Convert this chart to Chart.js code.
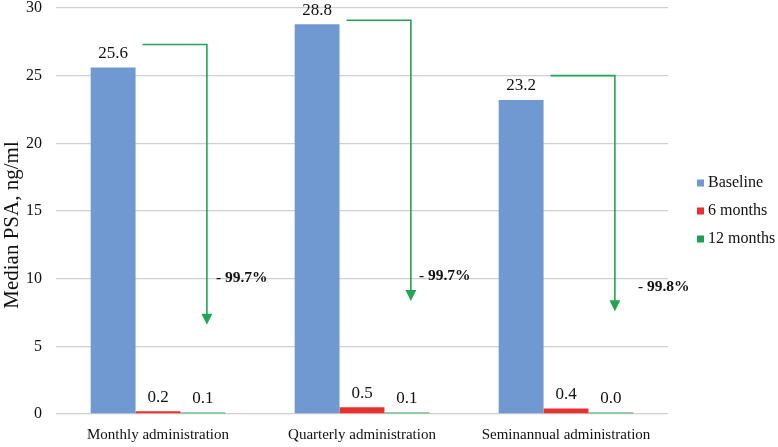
<!DOCTYPE html>
<html>
<head>
<meta charset="utf-8">
<script src="https://cdn.jsdelivr.net/npm/chart.js@4/dist/chart.umd.min.js"></script>
<style>
  html, body { margin: 0; padding: 0; background: #ffffff; }
  #wrap { width: 778px; height: 447px; }
</style>
</head>
<body>
<div id="wrap"><canvas id="c" width="778" height="447"></canvas></div>
<script>
// ---- Data ----
const categories = ["Monthly administration", "Quarterly administration", "Seminannual administration"];
const seriesNames = ["Baseline", "6 months", "12 months"];
const baseline = [25.6, 28.8, 23.2];
const sixMonths = [0.2, 0.5, 0.4];
const twelveMonths = [0.1, 0.1, 0.0];
const yTicks = [0, 5, 10, 15, 20, 25, 30];
const yTitle = "Median PSA, ng/ml";
// Annotation arrows (value units): start level, arrow tip level, label level
const arrowStart = [27.3, 29.1, 25.0];
const arrowEnd = [6.6, 8.35, 7.6];
const changeLabels = ["- 99.7%", "- 99.7%", "- 99.8%"];
const changeLabelLevel = [10.05, 10.2, 9.4];

const colors = ["#7099d1", "#e8302e", "#1f9e4f"];
const arrowColor = "#22a553";
const serif = "'Liberation Serif', 'Times New Roman', serif";

const annotationPlugin = {
  id: 'annot',
  afterDatasetsDraw(chart) {
    const ctx = chart.ctx;
    const y = chart.scales.y;
    const area = chart.chartArea;
    ctx.save();
    // y-axis title
    ctx.save();
    ctx.font = "21px " + serif;
    ctx.fillStyle = "#111";
    ctx.textAlign = "center";
    ctx.textBaseline = "middle";
    ctx.translate(y.left + 11, (area.top + area.bottom) / 2 + 14);
    ctx.rotate(-Math.PI / 2);
    ctx.fillText(yTitle, 0, 0);
    ctx.restore();
    // value labels
    ctx.font = "17px " + serif;
    ctx.fillStyle = "#111";
    ctx.textAlign = "center";
    ctx.textBaseline = "middle";
    chart.data.datasets.forEach((ds, di) => {
      const meta = chart.getDatasetMeta(di);
      meta.data.forEach((bar, i) => {
        const top = Math.min(bar.y, bar.base);
        ctx.fillText(ds.data[i].toFixed(1), bar.x, top - 14);
      });
    });
    // arrows
    const mb = chart.getDatasetMeta(0), mg = chart.getDatasetMeta(2);
    ctx.strokeStyle = arrowColor;
    ctx.fillStyle = arrowColor;
    ctx.lineWidth = 1.6;
    categories.forEach((c, i) => {
      const b = mb.data[i], g = mg.data[i];
      const x0 = b.x + b.width / 2 + 7;
      const x1 = g.x + 4;
      const ys = y.getPixelForValue(arrowStart[i]);
      const ye = y.getPixelForValue(arrowEnd[i]);
      const head = 11, hw = 5.5;
      ctx.beginPath();
      ctx.moveTo(x0, ys);
      ctx.lineTo(x1, ys);
      ctx.lineTo(x1, ye - head + 1);
      ctx.stroke();
      ctx.beginPath();
      ctx.moveTo(x1 - hw, ye - head);
      ctx.lineTo(x1 + hw, ye - head);
      ctx.lineTo(x1, ye);
      ctx.closePath();
      ctx.fill();
    });
    // change labels
    ctx.font = "bold 15.5px " + serif;
    ctx.fillStyle = "#111";
    ctx.textAlign = "left";
    const offs = [9, 8, 23];
    categories.forEach((c, i) => {
      const g = mg.data[i];
      ctx.fillText(changeLabels[i], g.x + 4 + offs[i], y.getPixelForValue(changeLabelLevel[i]));
    });
    // legend
    const cy = (area.top + area.bottom) / 2;
    const lx = area.right + 29;
    ctx.font = "16px " + serif;
    chart.data.datasets.forEach((ds, di) => {
      const ry = cy + (di - 1) * 28;
      ctx.fillStyle = ds.backgroundColor;
      ctx.fillRect(lx, ry - 3.5, 7, 7);
      ctx.fillStyle = "#111";
      ctx.fillText(ds.label, lx + 11, ry);
    });
    ctx.restore();
  }
};

new Chart(document.getElementById('c'), {
  type: 'bar',
  data: {
    labels: categories,
    datasets: [
      { label: seriesNames[0], data: baseline, backgroundColor: colors[0] },
      { label: seriesNames[1], data: sixMonths, backgroundColor: colors[1] },
      { label: seriesNames[2], data: twelveMonths, backgroundColor: colors[2], minBarLength: 1.5 }
    ]
  },
  options: {
    responsive: false,
    animation: false,
    layout: { padding: { top: 8, right: 110, bottom: 0, left: 1 } },
    datasets: { bar: { barPercentage: 1.0, categoryPercentage: 0.66 } },
    plugins: {
      legend: { display: false },
      tooltip: { enabled: false }
    },
    scales: {
      x: {
        grid: { display: false },
        border: { display: false },
        ticks: { color: '#111', font: { family: serif, size: 15 }, padding: 4, maxRotation: 0 },
        afterFit: (s) => { s.height = 33; s.paddingLeft = 0; s.paddingRight = 0; }
      },
      y: {
        min: 0, max: 30,
        afterBuildTicks: (ax) => { ax.ticks = yTicks.map(v => ({ value: v })); },
        grid: { color: '#cfcfcf', lineWidth: 1.3, drawTicks: false },
        border: { display: false },
        ticks: { color: '#111', font: { family: serif, size: 16 }, padding: 14 },
        title: { display: false },
        afterFit: (s) => { s.width = 55; s.paddingTop = 0; s.paddingBottom = 0; }
      }
    }
  },
  plugins: [annotationPlugin]
});
</script>
</body>
</html>
